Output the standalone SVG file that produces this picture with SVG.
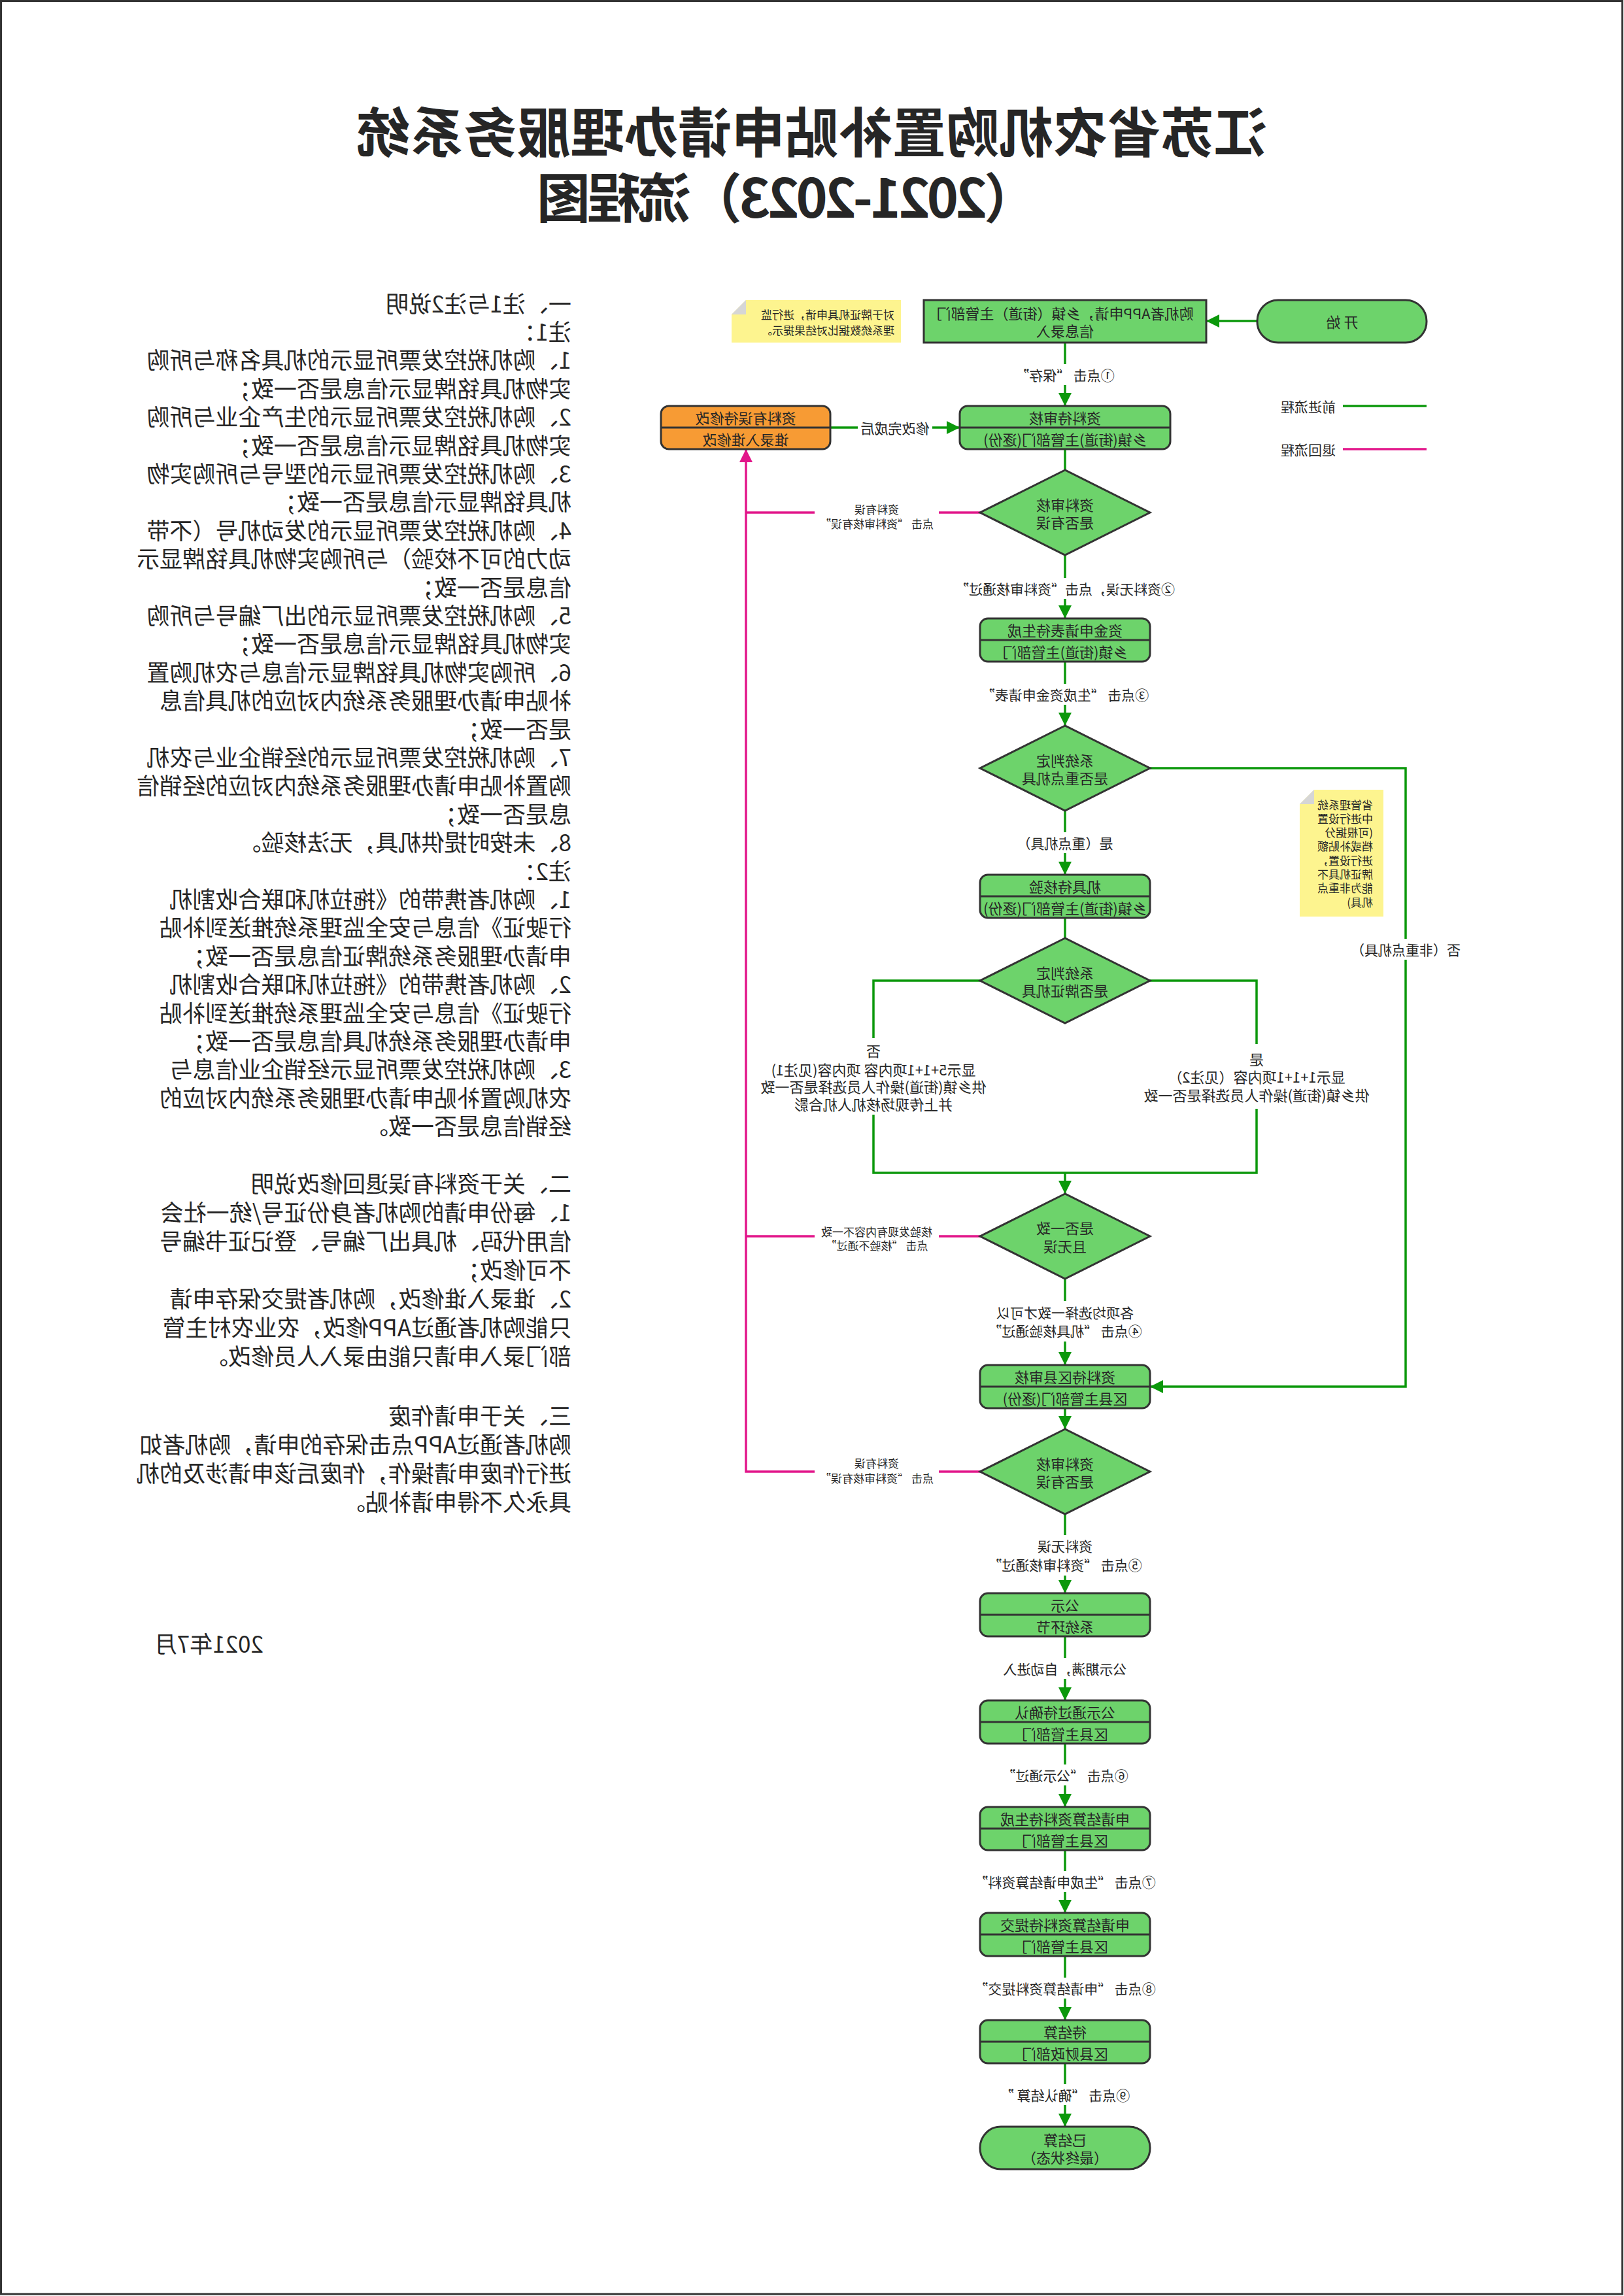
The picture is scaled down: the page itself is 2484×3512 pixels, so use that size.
<svg xmlns="http://www.w3.org/2000/svg" width="2484" height="3512" viewBox="0 0 2484 3512">
<defs>
<style>
text{font-family:"Noto Sans CJK SC","Noto Sans",sans-serif;fill:#262626}
.title{font-size:82px;font-weight:700;text-anchor:middle;dominant-baseline:central}
.note{font-size:35px;dominant-baseline:central}
.box{fill:#6dd36b;stroke:#333;stroke-width:3}
.org{fill:#f79b34;stroke:#333;stroke-width:3}
.dv{stroke:#333;stroke-width:3}
.bt{font-size:22px;text-anchor:middle;dominant-baseline:central}
.lbl{font-size:21px;text-anchor:middle;dominant-baseline:central}
.br{font-size:22px;text-anchor:middle;dominant-baseline:central}
.sl{font-size:17px;text-anchor:middle;dominant-baseline:central}
.yel{fill:#fdf48f}
.fold{fill:#d6d6d6}
.nt{font-size:17px;dominant-baseline:central}
.lg{font-size:21px;dominant-baseline:central}
.g{fill:none;stroke:#0b980b;stroke-width:3.5}
.m{fill:none;stroke:#e2168a;stroke-width:3.5}
.bg{fill:#fff}
</style>
<marker id="ag" viewBox="0 0 20 20" refX="20" refY="10" markerWidth="20" markerHeight="20" markerUnits="userSpaceOnUse" orient="auto"><path d="M0,0L20,10L0,20z" fill="#0b980b"/></marker>
<marker id="am" viewBox="0 0 20 20" refX="20" refY="10" markerWidth="20" markerHeight="20" markerUnits="userSpaceOnUse" orient="auto"><path d="M0,0L20,10L0,20z" fill="#e2168a"/></marker>
</defs>
<rect x="0" y="0" width="2484" height="3512" fill="#fff"/>
<rect x="1.5" y="1.5" width="2480" height="3507.5" fill="none" stroke="#333" stroke-width="3"/>
<g transform="matrix(-1 0 0 1 2484 0)">

<g id="title">
<text class="title" x="1242" y="197">江苏省农机购置补贴申请办理服务系统</text>
<text class="title" x="1280" y="297" textLength="766" lengthAdjust="spacing">（2021-2023）流程图</text>
</g>

<g id="notes">
<text class="note" x="1610" y="462">一、注1与注2说明</text>
<text class="note" x="1610" y="505.4">注1：</text>
<text class="note" x="1610" y="548.8">1、购机税控发票所显示的机具名称与所购</text>
<text class="note" x="1610" y="592.2">实物机具铭牌显示信息是否一致；</text>
<text class="note" x="1610" y="635.6">2、购机税控发票所显示的生产企业与所购</text>
<text class="note" x="1610" y="679">实物机具铭牌显示信息是否一致；</text>
<text class="note" x="1610" y="722.4">3、购机税控发票所显示的型号与所购实物</text>
<text class="note" x="1610" y="765.8">机具铭牌显示信息是否一致；</text>
<text class="note" x="1610" y="809.2">4、购机税控发票所显示的发动机号（不带</text>
<text class="note" x="1610" y="852.6">动力的可不校验）与所购实物机具铭牌显示</text>
<text class="note" x="1610" y="896">信息是否一致；</text>
<text class="note" x="1610" y="939.4">5、购机税控发票所显示的出厂编号与所购</text>
<text class="note" x="1610" y="982.8">实物机具铭牌显示信息是否一致；</text>
<text class="note" x="1610" y="1026.2">6、所购实物机具铭牌显示信息与农机购置</text>
<text class="note" x="1610" y="1069.6">补贴申请办理服务系统内对应的机具信息</text>
<text class="note" x="1610" y="1113">是否一致；</text>
<text class="note" x="1610" y="1156.4">7、购机税控发票所显示的经销企业与农机</text>
<text class="note" x="1610" y="1199.8">购置补贴申请办理服务系统内对应的经销信</text>
<text class="note" x="1610" y="1243.2">息是否一致；</text>
<text class="note" x="1610" y="1286.6">8、未按时提供机具，无法核验。</text>
<text class="note" x="1610" y="1330">注2：</text>
<text class="note" x="1610" y="1373.4">1、购机者携带的《拖拉机和联合收割机</text>
<text class="note" x="1610" y="1416.8">行驶证》信息与安全监理系统推送到补贴</text>
<text class="note" x="1610" y="1460.2">申请办理服务系统牌证信息是否一致；</text>
<text class="note" x="1610" y="1503.6">2、购机者携带的《拖拉机和联合收割机</text>
<text class="note" x="1610" y="1547">行驶证》信息与安全监理系统推送到补贴</text>
<text class="note" x="1610" y="1590.4">申请办理服务系统机具信息是否一致；</text>
<text class="note" x="1610" y="1633.8">3、购机税控发票所显示经销企业信息与</text>
<text class="note" x="1610" y="1677.2">农机购置补贴申请办理服务系统内对应的</text>
<text class="note" x="1610" y="1720.6">经销信息是否一致。</text>
<text class="note" x="1610" y="1808">二、关于资料有误退回修改说明</text>
<text class="note" x="1610" y="1852">1、每份申请的购机者身份证号/统一社会</text>
<text class="note" x="1610" y="1896">信用代码、机具出厂编号、登记证书编号</text>
<text class="note" x="1610" y="1940">不可修改；</text>
<text class="note" x="1610" y="1984">2、谁录入谁修改，购机者提交保存申请</text>
<text class="note" x="1610" y="2028">只能购机者通过APP修改，农业农村主管</text>
<text class="note" x="1610" y="2072">部门录入申请只能由录入人员修改。</text>
<text class="note" x="1610" y="2163">三、关于申请作废</text>
<text class="note" x="1610" y="2207">购机者通过APP点击保存的申请，购机者如</text>
<text class="note" x="1610" y="2251">进行作废申请操作，作废后该申请涉及的机</text>
<text class="note" x="1610" y="2295">具永久不得申请补贴。</text>
<text class="note" x="2081" y="2512">2021年7月</text>
</g>

<g id="connectors">
<path class="g" d="M561,491H639" marker-end="url(#ag)"/>
<path class="g" d="M855,524V621" marker-end="url(#ag)"/>
<path class="g" d="M1214,654H1016" marker-end="url(#ag)"/>
<path class="g" d="M855,687V719"/>
<path class="g" d="M855,849V946" marker-end="url(#ag)"/>
<path class="g" d="M855,1012V1110" marker-end="url(#ag)"/>
<path class="g" d="M725,1175H334V2121H725" marker-end="url(#ag)"/>
<path class="g" d="M855,1240V1338" marker-end="url(#ag)"/>
<path class="g" d="M855,1404V1435"/>
<path class="g" d="M725,1500H562V1794H1148V1500H985"/>
<path class="g" d="M855,1794V1826" marker-end="url(#ag)"/>
<path class="g" d="M855,1956V2088" marker-end="url(#ag)"/>
<path class="g" d="M855,2154V2186" marker-end="url(#ag)"/>
<path class="g" d="M855,2316V2437" marker-end="url(#ag)"/>
<path class="g" d="M855,2503V2601" marker-end="url(#ag)"/>
<path class="g" d="M855,2667V2764" marker-end="url(#ag)"/>
<path class="g" d="M855,2830V2926" marker-end="url(#ag)"/>
<path class="g" d="M855,2992V3090" marker-end="url(#ag)"/>
<path class="g" d="M855,3156V3253" marker-end="url(#ag)"/>
<path class="m" d="M985,784H1343"/>
<path class="m" d="M985,1891H1343"/>
<path class="m" d="M985,2251H1343V687" marker-end="url(#am)"/>

<rect class="bg" x="770" y="557" width="170" height="32"/>
<text class="lbl" x="855" y="573">①点击 “保存”</text>
<rect class="bg" x="1058" y="638" width="114" height="32"/>
<text class="lbl" x="1115" y="654">修改完成后</text>
<rect class="bg" x="1048" y="766" width="190" height="46"/>
<text class="sl" x="1143" y="778">资料有误</text>
<text class="sl" x="1143" y="800">点击 “资料审核有误”</text>
<rect class="bg" x="680" y="884" width="350" height="32"/>
<text class="lbl" x="855" y="900">②资料无误，点击“资料审核通过”</text>
<rect class="bg" x="717" y="1046" width="276" height="32"/>
<text class="lbl" x="855" y="1062">③点击 “生成资金申请表”</text>
<rect class="bg" x="775" y="1273" width="160" height="32"/>
<text class="lbl" x="855" y="1289">是（重点机具）</text>
<rect class="bg" x="244" y="1436" width="180" height="32"/>
<text class="lbl" x="334" y="1452">否（非重点机具）</text>
<rect class="bg" x="382" y="1597" width="360" height="99"/>
<text class="br" x="562" y="1619">是</text>
<text class="br" x="562" y="1646">显示1+1+1项内容（见注2）</text>
<text class="br" x="562" y="1674">供乡镇(街道)操作人员选择是否一致</text>
<rect class="bg" x="968" y="1588" width="360" height="117"/>
<text class="br" x="1148" y="1606">否</text>
<text class="br" x="1148" y="1635">显示5+1+1项内容 项内容(见注1)</text>
<text class="br" x="1148" y="1661">供乡镇(街道)操作人员选择是否一致</text>
<text class="br" x="1148" y="1688">并上传现场核机人机合影</text>
<rect class="bg" x="1048" y="1871" width="190" height="46"/>
<text class="sl" x="1143" y="1883">核验发现有内容不一致</text>
<text class="sl" x="1143" y="1904">点击 “核验不通过”</text>
<rect class="bg" x="730" y="1990" width="250" height="62"/>
<text class="lbl" x="855" y="2007">各项均选择一致才可以</text>
<text class="lbl" x="855" y="2035">④点击 “机具核验通过”</text>
<rect class="bg" x="1048" y="2225" width="190" height="46"/>
<text class="sl" x="1143" y="2237">资料有误</text>
<text class="sl" x="1143" y="2260">点击 “资料审核有误”</text>
<rect class="bg" x="730" y="2348" width="250" height="62"/>
<text class="lbl" x="855" y="2364">资料无误</text>
<text class="lbl" x="855" y="2393">⑤点击 “资料审核通过”</text>
<rect class="bg" x="752" y="2536" width="206" height="32"/>
<text class="lbl" x="855" y="2552">公示期满，自动进入</text>
<rect class="bg" x="752" y="2699" width="206" height="32"/>
<text class="lbl" x="855" y="2715">⑥点击 “公示通过”</text>
<rect class="bg" x="710" y="2862" width="290" height="32"/>
<text class="lbl" x="855" y="2878">⑦点击 “生成申请结算资料”</text>
<rect class="bg" x="710" y="3025" width="290" height="32"/>
<text class="lbl" x="855" y="3041">⑧点击 “申请结算资料提交”</text>
<rect class="bg" x="748" y="3188" width="214" height="32"/>
<text class="lbl" x="855" y="3204">⑨点击 “确认结算 ”</text>
</g>

<g id="legend">
<path class="g" d="M302,621H430"/>
<text class="lg" x="441" y="621">前进流程</text>
<path class="m" d="M302,687H430"/>
<text class="lg" x="441" y="687">退回流程</text>
</g>

<g id="start">
<rect class="box" x="302" y="459" width="259" height="65" rx="32"/>
<text class="bt" x="431" y="491">开 始</text>
</g>
<g id="n1">
<rect class="box" x="639" y="459" width="432" height="65"/>
<text class="bt" x="855" y="478">购机者APP申请，乡镇（街道）主管部门</text>
<text class="bt" x="855" y="505">信息录入</text>
</g>
<g id="note1">
<path class="yel" d="M1106,459H1343L1365,481V524H1106z"/>
<path class="fold" d="M1343,459V481H1365z"/>
<text class="nt" x="1116" y="480">对于牌证机具申请，进行监</text>
<text class="nt" x="1116" y="504">理系统数据比对结果提示。</text>
</g>
<g id="n2">
<rect class="box" x="694" y="621" width="322" height="66" rx="12"/>
<line class="dv" x1="694" y1="654" x2="1016" y2="654"/>
<text class="bt" x="855" y="637.5">资料待审核</text>
<text class="bt" x="855" y="670.5">乡镇(街道)主管部门(逐份)</text>
</g>
<g id="fix">
<rect class="org" x="1214" y="621" width="259" height="66" rx="12"/>
<line class="dv" x1="1214" y1="654" x2="1473" y2="654"/>
<text class="bt" x="1343.5" y="637.5">资料有误待修改</text>
<text class="bt" x="1343.5" y="670.5">谁录入谁修改</text>
</g>
<g id="d1">
<path class="box" d="M855,719L985,784L855,849L725,784z"/>
<text class="bt" x="855" y="771">资料审核</text>
<text class="bt" x="855" y="798">是否有误</text>
</g>
<g id="n3">
<rect class="box" x="725" y="946" width="260" height="66" rx="12"/>
<line class="dv" x1="725" y1="979" x2="985" y2="979"/>
<text class="bt" x="855" y="962.5">资金申请表待生成</text>
<text class="bt" x="855" y="995.5">乡镇(街道)主管部门</text>
</g>
<g id="d2">
<path class="box" d="M855,1110L985,1175L855,1240L725,1175z"/>
<text class="bt" x="855" y="1162">系统判定</text>
<text class="bt" x="855" y="1189">是否重点机具</text>
</g>
<g id="note2">
<path class="yel" d="M368,1208H474L496,1230V1402H368z"/>
<path class="fold" d="M474,1208V1230H496z"/>
<text class="nt" x="384" y="1230">省管理系统</text>
<text class="nt" x="384" y="1251.3">中进行设置</text>
<text class="nt" x="384" y="1272.6">(可根据分</text>
<text class="nt" x="384" y="1293.9">档或补贴额</text>
<text class="nt" x="384" y="1315.2">进行设置，</text>
<text class="nt" x="384" y="1336.5">牌证机具不</text>
<text class="nt" x="384" y="1357.8">能为非重点</text>
<text class="nt" x="384" y="1379.1">机具)</text>
</g>
<g id="n4">
<rect class="box" x="725" y="1338" width="260" height="66" rx="12"/>
<line class="dv" x1="725" y1="1371" x2="985" y2="1371"/>
<text class="bt" x="855" y="1354.5">机具待核验</text>
<text class="bt" x="855" y="1387.5">乡镇(街道)主管部门(逐份)</text>
</g>
<g id="d3">
<path class="box" d="M855,1435L985,1500L855,1565L725,1500z"/>
<text class="bt" x="855" y="1487">系统判定</text>
<text class="bt" x="855" y="1514">是否牌证机具</text>
</g>
<g id="d4">
<path class="box" d="M855,1826L985,1891L855,1956L725,1891z"/>
<text class="bt" x="855" y="1877">是否一致</text>
<text class="bt" x="855" y="1905">且无误</text>
</g>
<g id="n5">
<rect class="box" x="725" y="2088" width="260" height="66" rx="12"/>
<line class="dv" x1="725" y1="2121" x2="985" y2="2121"/>
<text class="bt" x="855" y="2104.5">资料待区县审核</text>
<text class="bt" x="855" y="2137.5">区县主管部门(逐份)</text>
</g>
<g id="d5">
<path class="box" d="M855,2186L985,2251L855,2316L725,2251z"/>
<text class="bt" x="855" y="2238">资料审核</text>
<text class="bt" x="855" y="2265">是否有误</text>
</g>
<g id="n6">
<rect class="box" x="725" y="2437" width="260" height="66" rx="12"/>
<line class="dv" x1="725" y1="2470" x2="985" y2="2470"/>
<text class="bt" x="855" y="2453.5">公示</text>
<text class="bt" x="855" y="2486.5">系统环节</text>
</g>
<g id="n7">
<rect class="box" x="725" y="2601" width="260" height="66" rx="12"/>
<line class="dv" x1="725" y1="2634" x2="985" y2="2634"/>
<text class="bt" x="855" y="2617.5">公示通过待确认</text>
<text class="bt" x="855" y="2650.5">区县主管部门</text>
</g>
<g id="n8">
<rect class="box" x="725" y="2764" width="260" height="66" rx="12"/>
<line class="dv" x1="725" y1="2797" x2="985" y2="2797"/>
<text class="bt" x="855" y="2780.5">申请结算资料待生成</text>
<text class="bt" x="855" y="2813.5">区县主管部门</text>
</g>
<g id="n9">
<rect class="box" x="725" y="2926" width="260" height="66" rx="12"/>
<line class="dv" x1="725" y1="2959" x2="985" y2="2959"/>
<text class="bt" x="855" y="2942.5">申请结算资料待提交</text>
<text class="bt" x="855" y="2975.5">区县主管部门</text>
</g>
<g id="n10">
<rect class="box" x="725" y="3090" width="260" height="66" rx="12"/>
<line class="dv" x1="725" y1="3123" x2="985" y2="3123"/>
<text class="bt" x="855" y="3106.5">待结算</text>
<text class="bt" x="855" y="3139.5">区县财政部门</text>
</g>
<g id="end">
<rect class="box" x="725" y="3253" width="260" height="65" rx="32"/>
<text class="bt" x="855" y="3272">已结算</text>
<text class="bt" x="855" y="3299">（最终状态）</text>
</g>
</g>
</svg>
